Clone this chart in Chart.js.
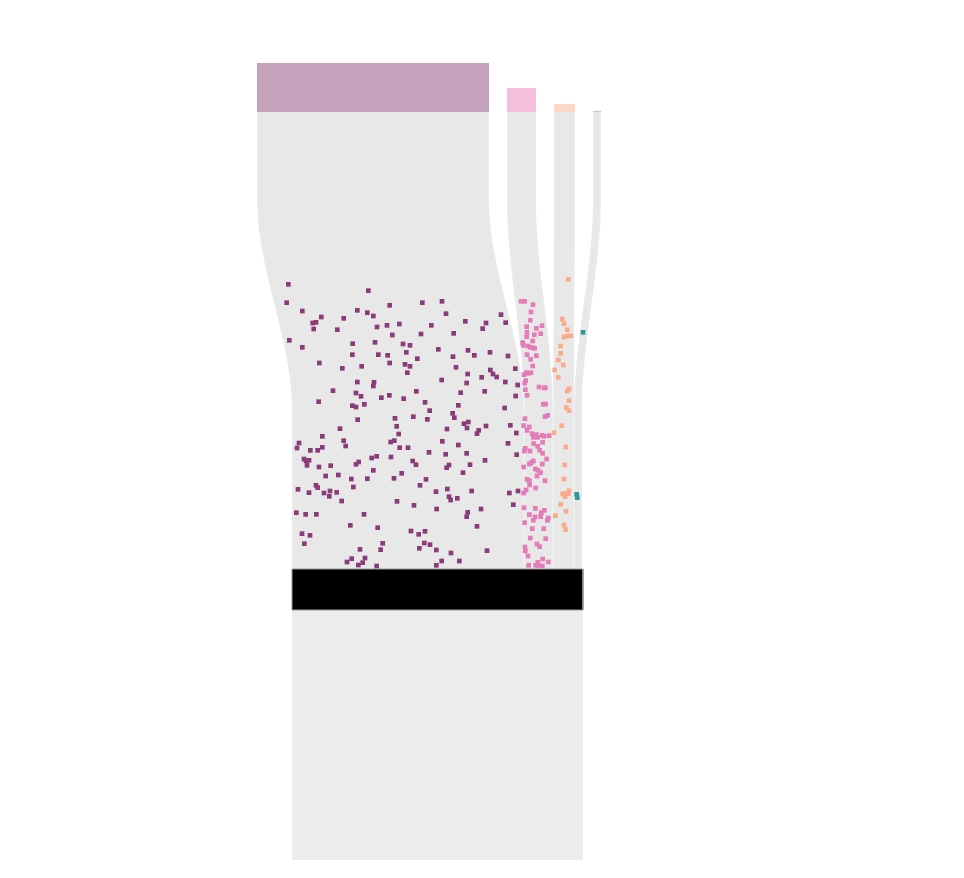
<!DOCTYPE html>
<html>
<head>
<meta charset="utf-8">
<script src="https://cdn.jsdelivr.net/npm/chart.js@4.4.0/dist/chart.umd.min.js"></script>
<style>
  html, body { margin: 0; padding: 0; background: #fff; }
  canvas { display: block; }
</style>
</head>
<body>
<canvas id="chart" width="964" height="878"></canvas>
<script>
// values are in plot units (1 unit = 1/3 px of the 964x878 page)
const groups = ['g1', 'g2', 'g3', 'g4'];
const streamWidth = [696, 87, 63, 24];
const barHeight = [147, 72, 24, 3];

const dotsG1 = [
  [55,43],[295,62],[50,98],[97,123],[359,106],[457,98],[516,94],[262,121],[292,128],[310,138],[154,141],[128,159],[138,157],[221,145],[131,177],[202,179],[321,171],[351,166],[388,162],[528,131],[484,166],[453,192],[367,195],[551,190],[586,154],[648,159],[638,176],[693,134],[707,158],
  [58,211],[97,232],[248,221],[315,217],[399,222],[420,226],[247,254],[325,254],[353,256],[409,247],[442,266],[505,238],[549,260],[594,241],[613,256],[660,247],[714,258],
  [148,279],[217,295],[275,289],[359,279],[405,283],[420,289],[412,308],[558,292],[593,312],[635,322],[661,300],[669,312],[680,321],[736,296],[515,330],[590,339],[706,336],[743,345],
  [262,336],[312,337],[310,348],[189,362],[258,369],[273,379],[358,376],[334,383],[401,386],[439,364],[572,368],[644,364],[737,378],
  [146,395],[247,407],[258,411],[283,403],[465,397],[479,422],[548,430],[553,443],[565,406],[704,414],[375,445],[430,440],[472,448],[263,449],
  [380,469],[386,492],[210,476],[582,461],[595,456],[591,474],[626,481],[621,491],[648,468],[721,466],[739,489],[531,477],
  [157,499],[221,512],[227,528],[362,516],[373,512],[389,533],[414,533],[517,514],[565,525],[714,520],[87,519],[81,534],[121,541],[143,541],[157,532],[477,547],[527,553],[590,550],[740,554],
  [102,567],[108,572],[117,571],[111,586],[147,591],[182,587],[266,576],[258,583],[305,564],[320,559],[363,561],[428,573],[438,584],[537,585],[530,593],[600,584],[645,571],
  [310,601],[395,610],[167,618],[205,615],[244,627],[292,626],[372,625],[468,628],[450,646],[579,608],
  [138,646],[143,653],[250,651],[84,658],[117,668],[162,669],[180,663],[200,667],[178,679],[215,693],[381,694],[498,665],[532,657],[537,680],[542,690],[562,685],[605,663],[718,669],[744,663],[730,704],
  [432,706],[500,717],[593,727],[590,740],[633,717],[79,728],[107,733],[139,733],[282,733],[241,766],[323,773],[621,769],
  [96,791],[120,796],[103,821],[423,783],[446,793],[465,784],[338,820],[332,839],[463,819],[480,824],[448,835],[499,840],[543,849],[651,842],[270,838],
  [245,866],[285,864],[231,876],[265,885],[278,878],[320,888],[499,886],[515,873],[568,873]
];

const dotsG2 = [
  [753,94],[764,94],[789,104],[783,126],[781,151],[816,167],[770,170],[799,175],[771,187],[793,194],[812,191],[770,200],
  [758,218],[760,226],[774,228],[781,232],[789,233],[794,235],[788,213],[771,254],[782,268],[799,257],[788,288],
  [769,308],[762,314],[775,310],[783,308],[767,332],[764,340],[807,351],[822,354],[826,353],[766,359],[771,376],
  [820,403],[827,402],[825,440],[833,436],[765,446],[761,467],[778,471],[771,481],[786,491],[799,494],[803,502],
  [817,496],[822,499],[837,497],[790,502],[818,517],[791,521],[803,529],[766,535],[763,543],[780,543],[809,541],
  [818,550],[830,567],[790,573],[784,578],[778,582],[817,582],[796,597],[804,601],[812,608],[761,591],[801,618],
  [771,628],[778,632],[825,632],[779,645],[797,654],[768,660],[761,669],[762,713],[796,715],[814,728],[823,721],
  [778,734],[795,741],[790,751],[812,740],[832,751],[835,744],[764,758],[787,776],[821,776],[781,804],[827,806],
  [801,822],[809,830],[765,831],[766,843],[774,858],[818,867],[835,876],[803,877],[776,886],[797,886],[806,886],[817,888]
];

const dotsG3 = [
  [895,28],[877,147],[882,161],[892,179],[902,197],[892,198],[882,201],[872,228],[872,250],[865,270],[880,285],
  [854,300],[865,322],[897,357],[892,363],[897,392],[889,413],[897,422],[875,467],[852,488],[887,531],[884,585],
  [882,627],[897,662],[895,671],[885,671],[878,672],[885,680],[872,703],[856,737],[888,724],[882,765],[887,779]
];

const dotsG4 = [[939,187],[920,673],[922,683]];

const dots = [dotsG1, dotsG2, dotsG3, dotsG4];

// layout
const TOP = -474, BEND_START = -210, BEND_END = 420;
const GATE_TOP = 897, GATE_BOTTOM = 1020, FLOOR = 1770;
const TOP_LEFT = -39, TOP_GAP = 54, COLUMN_LEFT = 66;

const dotColor = ['#8b3a7a', '#e57bb9', '#fbaa8a', '#2e9a94'];
const barColor = ['#c5a1bc', '#f4bfdc', '#fed7c7', '#a9d6d3'];
const streamColor = '#e8e8e8';

const topX = [];
const botX = [];
let tx = TOP_LEFT, bx = COLUMN_LEFT;
streamWidth.forEach(w => {
  topX.push(tx);
  botX.push(bx);
  tx += w + TOP_GAP;
  bx += w;
});
const columnRight = bx + 3;

function rect(x0, x1, y0, y1) {
  return [{x: x0, y: y0}, {x: x1, y: y0}, {x: x1, y: y1}, {x: x0, y: y1}, {x: x0, y: y0}];
}

function edge(xTop, xBot) {
  return [{x: xTop, y: TOP}, {x: xTop, y: BEND_START}, {x: xBot, y: BEND_END}, {x: xBot, y: GATE_TOP}];
}

const datasets = [];

groups.forEach((g, i) => {
  datasets.push({
    label: g,
    data: dots[i].map(p => ({x: p[0], y: p[1]})),
    showLine: false,
    pointStyle: 'rect',
    pointRadius: 3.3,
    pointBorderWidth: 0,
    pointBackgroundColor: dotColor[i],
    order: 0
  });
});

groups.forEach((g, i) => {
  const w = streamWidth[i];
  const leftIndex = datasets.length;
  datasets.push({
    data: edge(topX[i], botX[i]),
    indexAxis: 'y',
    cubicInterpolationMode: 'monotone',
    borderColor: 'rgba(255,255,255,0.3)',
    borderWidth: 1,
    pointRadius: 0,
    fill: false,
    order: 1
  });
  datasets.push({
    data: edge(topX[i] + w, botX[i] + w),
    indexAxis: 'y',
    cubicInterpolationMode: 'monotone',
    borderColor: 'rgba(255,255,255,0.3)',
    borderWidth: 1,
    pointRadius: 0,
    backgroundColor: streamColor,
    fill: leftIndex,
    order: 2
  });
  datasets.push({
    data: rect(topX[i], topX[i] + w, TOP - barHeight[i], TOP),
    borderWidth: 0,
    pointRadius: 0,
    backgroundColor: barColor[i],
    fill: 'shape',
    order: 3
  });
});

datasets.push({
  data: rect(COLUMN_LEFT, columnRight, GATE_TOP, GATE_BOTTOM),
  borderColor: '#9a9a9a',
  borderWidth: 1,
  pointRadius: 0,
  backgroundColor: '#000000',
  fill: 'shape',
  order: 1
});

datasets.push({
  data: rect(COLUMN_LEFT, columnRight, GATE_BOTTOM, FLOOR),
  borderWidth: 0,
  pointRadius: 0,
  backgroundColor: '#ececec',
  fill: 'shape',
  order: 4
});

new Chart(document.getElementById('chart'), {
  type: 'line',
  data: { datasets },
  options: {
    responsive: false,
    animation: false,
    events: [],
    layout: { padding: 0, autoPadding: false },
    plugins: {
      legend: { display: false },
      tooltip: { enabled: false }
    },
    scales: {
      x: { type: 'linear', min: -810, max: 2082, display: false },
      y: { type: 'linear', min: -810, max: 1824, reverse: true, display: false }
    }
  }
});
</script>
</body>
</html>
